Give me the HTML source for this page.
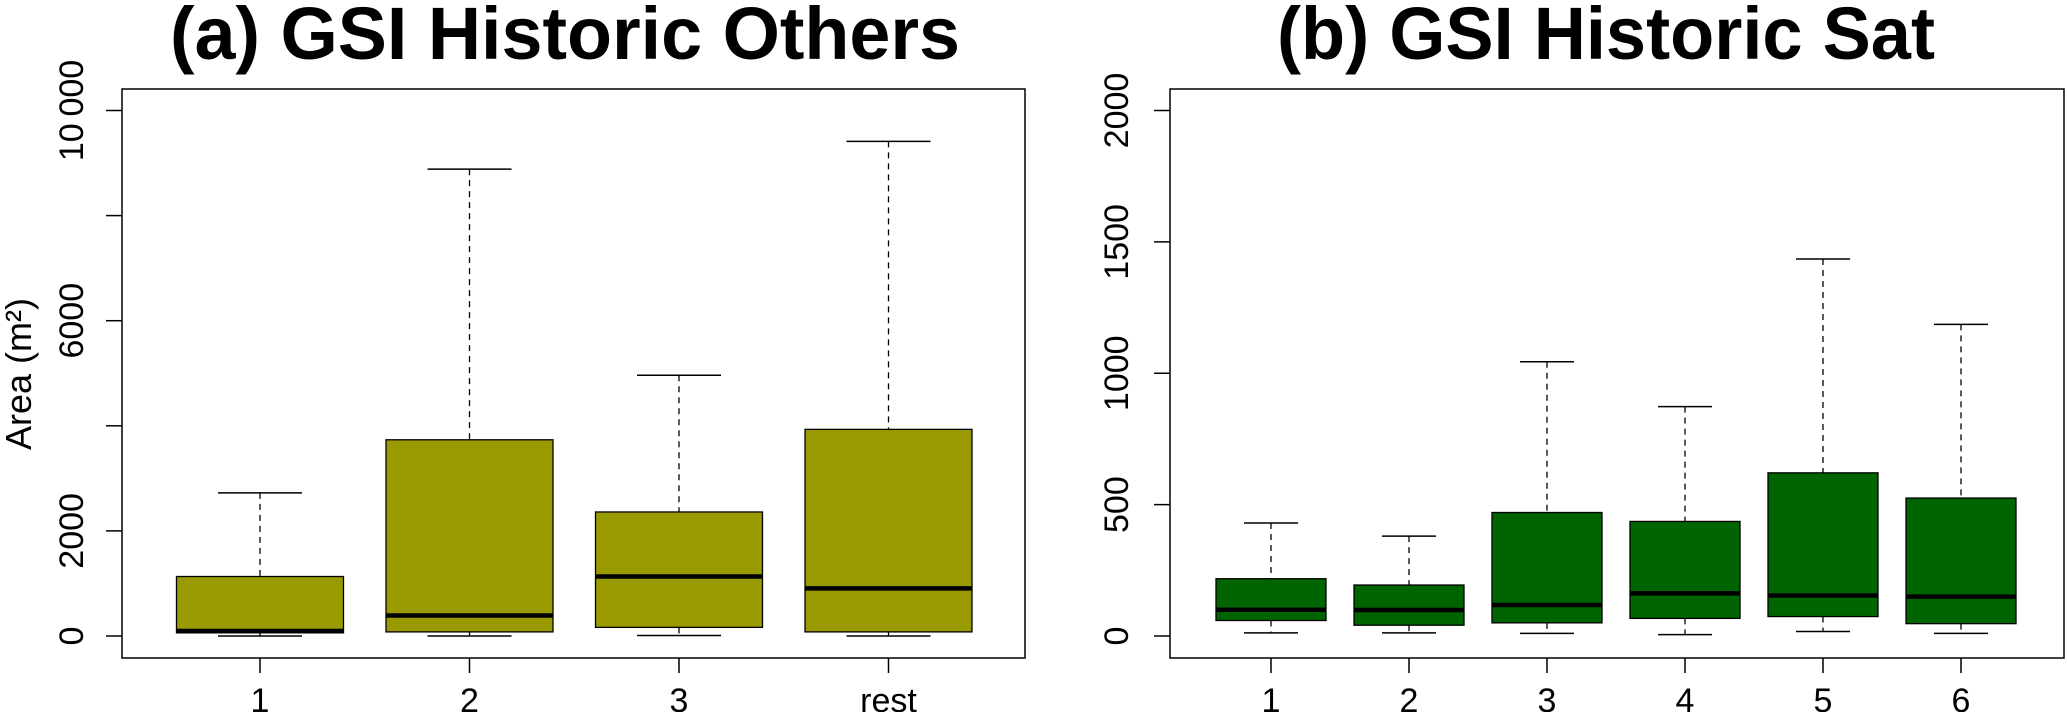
<!DOCTYPE html>
<html><head><meta charset="utf-8"><style>
html,body{margin:0;padding:0;background:#fff;}
svg{display:block;font-family:"Liberation Sans",Arial,sans-serif;}
</style></head><body>
<svg id="chart" width="2067" height="712" viewBox="0 0 2067 712" xmlns="http://www.w3.org/2000/svg">
<text x="565" y="59" font-size="74" font-weight="bold" text-anchor="middle" textLength="790" lengthAdjust="spacingAndGlyphs">(a) GSI Historic Others</text>
<text x="1606" y="59" font-size="74" font-weight="bold" text-anchor="middle" textLength="658" lengthAdjust="spacingAndGlyphs">(b) GSI Historic Sat</text>
<text transform="translate(31,374) rotate(-90)" font-size="36" text-anchor="middle">Area (m²)</text>
<g id="pa"></g>
<g id="pb"></g>
</svg>
<script>
// Panel A data
const catsA = ["1","2","3","rest"];
const lowA = [0, 0, 9, 0];
const q1A = [60, 78, 164, 78];
const medA = [95, 389, 1132, 907];
const q3A = [1132, 3734, 2360, 3932];
const highA = [2723, 8885, 4961, 9412];
const ticksA = [0, 2000, 4000, 6000, 8000, 10000];
const tickLabelsA = ["0", "2000", "", "6000", "", "10\u2009000"];
// Panel B data
const catsB = ["1","2","3","4","5","6"];
const lowB = [12, 12, 10, 5, 17, 10];
const q1B = [59, 41, 50, 67, 74, 47];
const medB = [100, 99, 118, 162, 154, 150];
const q3B = [218, 194, 470, 436, 621, 525];
const highB = [430, 380, 1044, 873, 1435, 1186];
const ticksB = [0, 500, 1000, 1500, 2000];
const tickLabelsB = ["0", "500", "1000", "1500", "2000"];

const NS = "http://www.w3.org/2000/svg";
function mk(parent, tag, attrs){const e=document.createElementNS(NS,tag);for(const k in attrs)e.setAttribute(k,attrs[k]);parent.appendChild(e);return e;}

function panel(g, cfg){
  const {x0,x1,y0,y1,vmax,y0px,yMaxPx,cats,low,q1,med,q3,high,ticks,labels,fill,xFirst,xStep,half,cap,labelX}=cfg;
  const y = v => y0px - (v/vmax)*(y0px-yMaxPx);
  const x = i => xFirst + i*xStep;
  let r=mk(g,"rect",{x:x0,y:y0,width:x1-x0,height:y1-y0,fill:"none",stroke:"#000","stroke-width":1.5});
  
  
  ticks.forEach((t,i)=>{
    let l=mk(g,"line",{x1:x0-16,x2:x0,y1:y(t),y2:y(t),stroke:"#000","stroke-width":1.5});
    
    
    if(labels[i]){
      let tx=mk(g,"text",{transform:`translate(${labelX},${y(t)}) rotate(-90)`,"font-size":34,"text-anchor":"middle"});
      tx.textContent=labels[i];
      
      
    }
  });
  cats.forEach((c,i)=>{
    const cx=x(i);
    let tk=mk(g,"line",{x1:cx,x2:cx,y1:y1,y2:y1+15,stroke:"#000","stroke-width":1.5});
    
    
    let tl=mk(g,"text",{x:cx,y:712,"font-size":34,"text-anchor":"middle"});
    tl.textContent=c;
    
    
    const bg=mk(g,"g",{});
    
    
    mk(bg,"line",{x1:cx,x2:cx,y1:y(high[i]),y2:y(q3[i]),stroke:"#000","stroke-width":1.3,"stroke-dasharray":"6,5"});
    mk(bg,"line",{x1:cx,x2:cx,y1:y(q1[i]),y2:y(low[i]),stroke:"#000","stroke-width":1.3,"stroke-dasharray":"6,5"});
    mk(bg,"line",{x1:cx-cap,x2:cx+cap,y1:y(high[i]),y2:y(high[i]),stroke:"#000","stroke-width":1.5});
    mk(bg,"line",{x1:cx-cap,x2:cx+cap,y1:y(low[i]),y2:y(low[i]),stroke:"#000","stroke-width":1.5});
    mk(bg,"rect",{x:cx-half,y:y(q3[i]),width:2*half,height:y(q1[i])-y(q3[i]),fill:fill,stroke:"#000","stroke-width":1.3});
    mk(bg,"line",{x1:cx-half,x2:cx+half,y1:y(med[i]),y2:y(med[i]),stroke:"#000","stroke-width":4.5});
  });
}
panel(document.getElementById("pa"),{x0:122,x1:1025,y0:89,y1:658,vmax:10000,y0px:636,yMaxPx:110.5,
  cats:catsA,low:lowA,q1:q1A,med:medA,q3:q3A,high:highA,ticks:ticksA,labels:tickLabelsA,fill:"#999900",
  xFirst:260,xStep:209.5,half:83.5,cap:42,labelX:83});
panel(document.getElementById("pb"),{x0:1170,x1:2064,y0:89,y1:658,vmax:2000,y0px:636,yMaxPx:110.5,
  cats:catsB,low:lowB,q1:q1B,med:medB,q3:q3B,high:highB,ticks:ticksB,labels:tickLabelsB,fill:"#006400",
  xFirst:1271,xStep:138,half:55,cap:27,labelX:1128});
</script>
</body></html>
